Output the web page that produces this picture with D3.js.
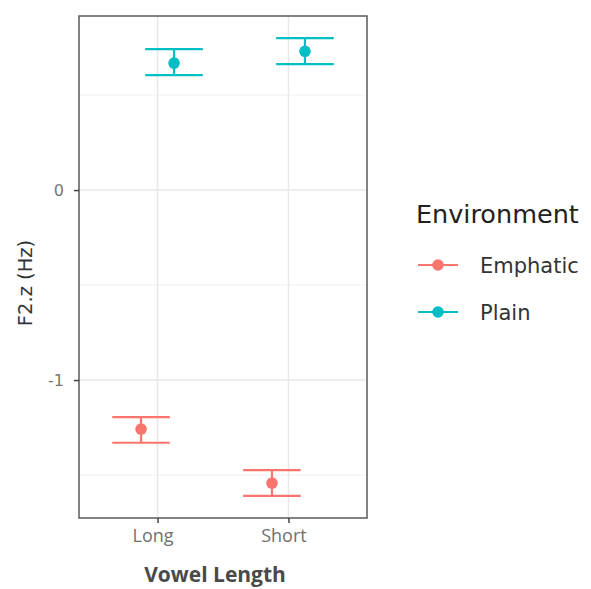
<!DOCTYPE html>
<html>
<head>
<meta charset="utf-8">
<script src="https://cdn.jsdelivr.net/npm/d3@7"></script>
<style>
  body { margin: 0; background: #fff; }
</style>
</head>
<body>
<div id="chart"></div>
<script>
// data
const lengths = ["Long", "Short"];
const environments = ["Emphatic", "Plain"];
const colors = ["#F8766D", "#00BFC4"];
// mean, lower, upper for each environment, in the order of lengths
const emphaticMean = [-1.258, -1.542];
const emphaticLow = [-1.330, -1.610];
const emphaticHigh = [-1.195, -1.474];
const plainMean = [0.668, 0.730];
const plainLow = [0.605, 0.663];
const plainHigh = [0.742, 0.800];
const yTicks = [0, -1];
const yMinor = [0.5, -0.5, -1.5];

const rows = [];
lengths.forEach((len, i) => {
    rows.push({len, env: "Emphatic", m: emphaticMean[i], lo: emphaticLow[i], hi: emphaticHigh[i]});
    rows.push({len, env: "Plain", m: plainMean[i], lo: plainLow[i], hi: plainHigh[i]});
});

const width = 591, height = 589;
const panel = {left: 79, right: 367, top: 16, bottom: 518};

const svg = d3.select("#chart").append("svg")
    .attr("width", width)
    .attr("height", height);

const x = d3.scalePoint()
    .domain(lengths)
    .range([panel.left, panel.right])
    .padding(0.6);

const y = d3.scaleLinear()
    .domain([-1.726, 0.916])
    .range([panel.bottom, panel.top]);

const color = d3.scaleOrdinal(environments, colors);
const step = x.step();
const dodge = d3.scaleOrdinal(environments, [-0.126 * step, 0.126 * step]);
const barHalf = 0.22 * step;

// grid
const grid = svg.append("g");
grid.selectAll("line.minor")
    .data(yMinor)
    .join("line")
    .attr("x1", panel.left).attr("x2", panel.right)
    .attr("y1", d => y(d)).attr("y2", d => y(d))
    .attr("stroke", "#f0f0f0")
    .attr("stroke-width", 1);
grid.selectAll("line.major")
    .data(yTicks)
    .join("line")
    .attr("x1", panel.left).attr("x2", panel.right)
    .attr("y1", d => y(d)).attr("y2", d => y(d))
    .attr("stroke", "#e8e8e8")
    .attr("stroke-width", 1.5);
grid.selectAll("line.vx")
    .data(lengths)
    .join("line")
    .attr("x1", d => x(d)).attr("x2", d => x(d))
    .attr("y1", panel.top).attr("y2", panel.bottom)
    .attr("stroke", "#e8e8e8")
    .attr("stroke-width", 1.5);

// error bars
const g = svg.append("g").attr("fill", "none").attr("stroke-width", 2.2);
const eb = g.selectAll("g").data(rows).join("g")
    .attr("stroke", d => color(d.env));
eb.append("line")
    .attr("x1", d => x(d.len) + dodge(d.env) - barHalf)
    .attr("x2", d => x(d.len) + dodge(d.env) + barHalf)
    .attr("y1", d => y(d.hi)).attr("y2", d => y(d.hi));
eb.append("line")
    .attr("x1", d => x(d.len) + dodge(d.env) - barHalf)
    .attr("x2", d => x(d.len) + dodge(d.env) + barHalf)
    .attr("y1", d => y(d.lo)).attr("y2", d => y(d.lo));
eb.append("line")
    .attr("x1", d => x(d.len) + dodge(d.env))
    .attr("x2", d => x(d.len) + dodge(d.env))
    .attr("y1", d => y(d.hi)).attr("y2", d => y(d.lo));

svg.append("g").selectAll("circle")
    .data(rows)
    .join("circle")
    .attr("cx", d => x(d.len) + dodge(d.env))
    .attr("cy", d => y(d.m))
    .attr("r", 5.8)
    .attr("fill", d => color(d.env));

// panel border
svg.append("rect")
    .attr("x", panel.left).attr("y", panel.top)
    .attr("width", panel.right - panel.left)
    .attr("height", panel.bottom - panel.top)
    .attr("fill", "none")
    .attr("stroke", "#5a5a5a")
    .attr("stroke-width", 1.5);

// axes
const yAxis = svg.append("g")
    .attr("transform", `translate(${panel.left},0)`)
    .call(d3.axisLeft(y).tickValues(yTicks).tickSize(5).tickPadding(10).tickFormat(d => String(d)))
    .call(g => g.select(".domain").remove());
yAxis.selectAll("line").attr("stroke", "#444").attr("stroke-width", 1.5);
yAxis.selectAll("text")
    .attr("fill", "#777")
    .style("font-family", "DejaVu Sans")
    .style("font-size", "16px");

const xAxis = svg.append("g")
    .attr("transform", `translate(0,${panel.bottom})`)
    .call(d3.axisBottom(x).tickSize(5).tickPadding(6))
    .call(g => g.select(".domain").remove());
xAxis.selectAll("line").attr("stroke", "#444").attr("stroke-width", 1.5);
xAxis.selectAll("text")
    .attr("fill", "#707070")
    .attr("dx", -5)
    .style("font-family", "Open Sans")
    .style("font-size", "18px");

// titles
svg.append("text")
    .attr("x", 215).attr("y", 582)
    .attr("text-anchor", "middle")
    .attr("fill", "#4a4a4a")
    .style("font-family", "Open Sans")
    .style("font-weight", "bold")
    .style("font-size", "21px")
    .text("Vowel Length");

svg.append("text")
    .attr("transform", "translate(32,283) rotate(-90)")
    .attr("text-anchor", "middle")
    .attr("fill", "#333")
    .style("font-family", "DejaVu Sans")
    .style("font-size", "19.5px")
    .text("F2.z (Hz)");

// legend
const legend = svg.append("g");
legend.append("text")
    .attr("x", 416).attr("y", 223)
    .attr("fill", "#222")
    .style("font-family", "DejaVu Sans")
    .style("font-size", "25.5px")
    .text("Environment");

const item = legend.selectAll("g")
    .data(environments)
    .join("g")
    .attr("transform", (d, i) => `translate(0,${265 + i * 47})`);
item.append("line")
    .attr("x1", 418).attr("x2", 458)
    .attr("stroke", d => color(d))
    .attr("stroke-width", 2.2);
item.append("circle")
    .attr("cx", 438).attr("r", 5.8)
    .attr("fill", d => color(d));
item.append("text")
    .attr("x", 480).attr("y", 7.5)
    .attr("fill", "#333")
    .style("font-family", "DejaVu Sans")
    .style("font-size", "21px")
    .text(d => d);
</script>
</body>
</html>
